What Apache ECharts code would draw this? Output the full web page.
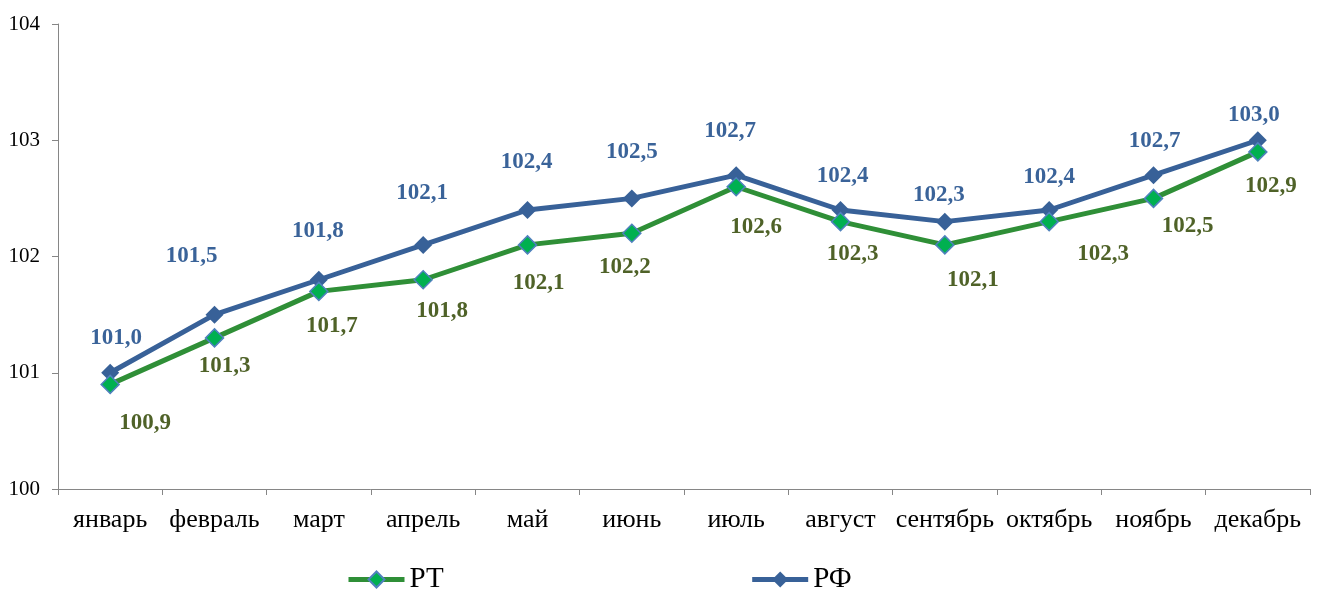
<!DOCTYPE html>
<html>
<head>
<meta charset="utf-8">
<script src="https://cdn.jsdelivr.net/npm/echarts@6/dist/echarts.min.js"></script>
<style>
  html, body { margin: 0; padding: 0; background: #fff; }
  #chart { width: 1318px; height: 590px; }
</style>
</head>
<body>
<div id="chart"></div>
<script>
// данные
var months = ['январь', 'февраль', 'март', 'апрель', 'май', 'июнь', 'июль', 'август', 'сентябрь', 'октябрь', 'ноябрь', 'декабрь'];
var rt = [100.9, 101.3, 101.7, 101.8, 102.1, 102.2, 102.6, 102.3, 102.1, 102.3, 102.5, 102.9];
var rf = [101.0, 101.5, 101.8, 102.1, 102.4, 102.5, 102.7, 102.4, 102.3, 102.4, 102.7, 103.0];

// сдвиги подписей (как вручную расставлены в исходной диаграмме)
var rtShift = [[35, 39], [10, 28], [13, 35], [19, 31], [11, 38], [-7, 34], [20, 40], [12, 32], [28, 35], [54, 32], [34, 28], [13, 34]];
var rfShift = [[6, -35], [-23, -59], [-1, -49], [-1, -52], [-1, -48], [0, -46], [-6, -44], [2, -34], [-6, -27], [0, -33], [1, -34], [-4, -25]];

var font = '"Liberation Serif", "Times New Roman", serif';

function withLabels(values, shifts) {
    return values.map(function (v, i) {
        return { value: v, label: { offset: shifts[i] } };
    });
}

function fmt(p) {
    return p.value.toFixed(1).replace('.', ',');
}

var chart = echarts.init(document.getElementById('chart'));

var option = {
    animation: false,
    grid: { left: 58, right: 8, top: 24, bottom: 101 },
    legend: {
        left: 341,
        top: 560,
        itemGap: 306,
        itemWidth: 56,
        itemHeight: 20,
        textStyle: { fontFamily: font, fontSize: 29, color: '#000' },
        data: [
            { name: 'РТ', lineStyle: { width: 5 } },
            { name: 'РФ', lineStyle: { width: 5 } }
        ]
    },
    xAxis: {
        type: 'category',
        data: months,
        boundaryGap: true,
        axisLine: { lineStyle: { color: '#868686', width: 1 } },
        axisTick: { show: true, length: 6, alignWithLabel: false, lineStyle: { color: '#868686' } },
        axisLabel: { fontFamily: font, fontSize: 26, color: '#000', margin: 18, interval: 0 },
        splitLine: { show: false }
    },
    yAxis: {
        type: 'value',
        min: 100,
        max: 104,
        interval: 1,
        axisLine: { show: true, lineStyle: { color: '#868686', width: 1 } },
        axisTick: { show: true, length: 6, lineStyle: { color: '#868686' } },
        axisLabel: { fontFamily: font, fontSize: 21, color: '#000', margin: 18 },
        splitLine: { show: false }
    },
    series: [
        {
            name: 'РТ',
            type: 'line',
            data: withLabels(rt, rtShift),
            symbol: 'diamond',
            symbolSize: 18,
            lineStyle: { color: '#2F8F37', width: 5 },
            itemStyle: { color: '#00B050', borderColor: '#4F81BD', borderWidth: 1.5 },
            label: {
                show: true,
                position: 'inside',
                formatter: fmt,
                fontFamily: font,
                fontSize: 23,
                fontWeight: 'bold',
                color: '#4F6228'
            },
            z: 3
        },
        {
            name: 'РФ',
            type: 'line',
            data: withLabels(rf, rfShift),
            symbol: 'diamond',
            symbolSize: 18,
            lineStyle: { color: '#386198', width: 5 },
            itemStyle: { color: '#386198', borderColor: '#386198', borderWidth: 0 },
            label: {
                show: true,
                position: 'inside',
                formatter: fmt,
                fontFamily: font,
                fontSize: 23,
                fontWeight: 'bold',
                color: '#3A6399'
            },
            z: 2
        }
    ]
};

chart.setOption(option);
</script>
</body>
</html>
